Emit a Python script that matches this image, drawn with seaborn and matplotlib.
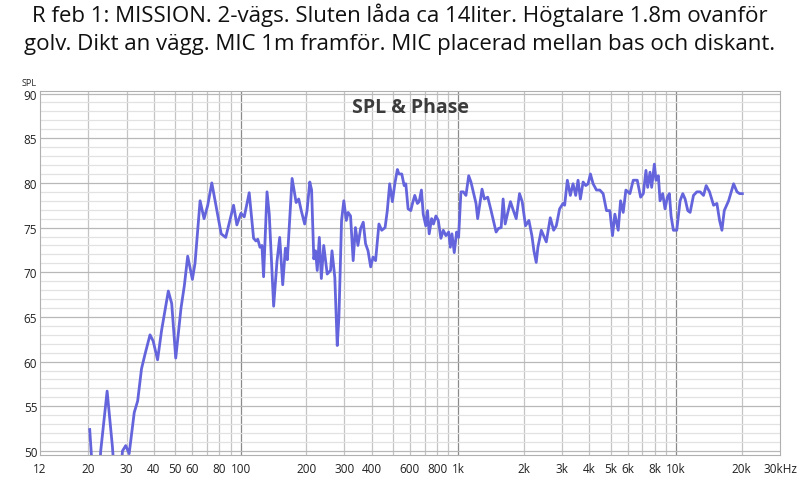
import numpy as np
import pandas as pd
import matplotlib.pyplot as plt
import seaborn as sns
from matplotlib.ticker import FixedLocator, NullFormatter

# frekvenser (Hz) och SPL (dB) avlästa från mätningen
freq = [20.3, 20.8, 21.6, 22.2, 22.8, 24.4, 25.8, 26.6, 28.0, 28.7, 29.7, 30.8, 32.5, 33.7,
        35.1, 36.4, 38.4, 39.7, 41.6, 43.4, 46.6, 48.3, 50.4, 53.3, 55.2, 57.2, 60.1, 61.8,
        65.2, 68.0, 70.7, 73.8, 77.8, 81.5, 85.5, 92.9, 96.2, 100.4, 104, 109.6, 114.8,
        117.7, 120, 122.8, 125.4, 127.6, 132.3, 135.5, 141.9, 147, 151.3, 156.2, 160.7, 164,
        172.5, 180,
        185, 190, 197, 202, 208, 212, 217, 221, 225, 230, 235, 241, 250, 259, 263, 271, 278,
        283, 291, 298, 306, 312, 320, 329, 337, 346, 356, 366, 375, 385, 396, 406, 417, 432,
        445, 461, 472, 484, 498, 511, 525, 534, 550, 564, 574, 588, 605, 616, 631, 649, 661,
        677, 690, 709, 722, 735, 754, 769, 789, 809, 832, 853, 877, 903, 919, 935, 958, 982,
        1003, 1028, 1054, 1084, 1116, 1143, 1172, 1206, 1227, 1249, 1285, 1317, 1365, 1414,
        1449, 1491, 1528, 1573, 1606, 1641, 1688, 1736, 1779, 1844, 1910, 1965, 2035, 2109,
        2177, 2224, 2279, 2320, 2405, 2464, 2535, 2644, 2740, 2818, 2919, 3025, 3078, 3167,
        3269, 3363, 3460, 3546, 3635, 3741, 3848, 3944, 4042, 4159, 4309, 4464, 4623, 4791,
        4964, 5106, 5234, 5422, 5559, 5717, 5881, 6136, 6358, 6632, 6873, 7071, 7272, 7404,
        7589, 7724, 7946, 8088, 8290, 8438, 8680, 8895, 9119, 9315, 9481, 9718, 10070, 10432,
        10732, 11000, 11316, 11600, 12018, 12451, 12898, 13364, 13746, 14241, 14861, 15394,
        15836, 16236, 16641, 17421, 18369, 19037, 19573, 20146]
spl = [52.4, 48.5, 45.0, 45.5, 50.0, 56.7, 50.5, 46.0, 46.5, 50.0, 50.6, 49.7, 54.3, 55.6,
       59.2, 60.8, 63.0, 62.3, 60.2, 63.5, 67.9, 66.5, 60.4, 66.0, 68.5, 71.8, 69.2, 71.0,
       78.0, 76.0, 77.5, 80.0, 77.0, 74.3, 73.9, 77.5, 75.3, 76.6, 76.2, 78.9, 73.8,
       73.5, 73.7, 72.8, 73.0, 69.5, 79.0, 76.5, 66.2, 71.2, 73.9, 68.6, 72.7, 71.4,
       80.5, 77.8,
       78.2, 76.9, 75.4, 76.9, 80.1, 79.2, 71.5, 72.4, 70.2, 73.9, 69.3, 73.0, 69.8, 70.2,
       72.4, 69.4, 61.8, 65.0, 75.8, 78.0, 75.8, 76.7, 76.3, 71.3, 75.0, 73.0, 74.9, 75.6,
       73.2, 72.4, 70.6, 71.7, 71.3, 75.4, 74.7, 75.0, 76.9, 79.9, 77.9, 79.9, 81.5, 81.0,
       81.0, 79.7, 79.9, 77.1, 76.9, 77.7, 78.6, 77.7, 77.9, 79.2, 76.5, 75.2, 76.9, 74.3,
       76.0, 75.4, 76.3, 75.8, 73.8, 74.7, 74.1, 74.5, 72.8, 74.3, 72.2, 74.5, 73.9, 79.0,
       79.0, 78.6, 80.8, 80.1, 79.0, 77.7, 76.0, 77.3, 79.3, 78.2, 78.4, 76.9, 75.8, 74.5,
       74.9, 75.0, 78.2, 75.4, 76.7, 77.9, 77.1, 76.0, 78.8, 77.9, 75.2, 75.8, 74.1, 72.4,
       71.1, 72.8, 74.7, 74.1, 73.4, 76.1, 74.7, 75.2, 77.1, 77.7, 77.5, 80.3, 78.6, 79.9,
       78.6, 80.3, 78.2, 80.1, 79.7, 79.9, 81.0, 79.9, 79.2, 79.2, 78.8, 76.9, 76.9, 74.1,
       76.5, 74.7, 78.0, 76.7, 79.2, 78.8, 80.3, 80.3, 78.4, 78.8, 81.4, 79.5, 81.2, 79.5,
       82.1, 80.3, 80.8, 78.0, 78.8, 77.1, 78.4, 78.8, 76.3, 74.7, 74.7, 78.0, 78.8, 78.2,
       76.9, 76.7, 78.6, 79.0, 79.0, 78.6, 79.7, 79.0, 77.5, 77.7, 75.8, 74.7, 76.9, 78.0,
       79.9, 79.0, 78.8, 78.8]

tick_pos = [12, 20, 30, 40, 50, 60, 80, 100, 200, 300, 400, 600, 800, 1000, 2000, 3000,
            4000, 5000, 6000, 8000, 10000, 20000, 30000]
tick_lab = ["12", "20", "30", "40", "50", "60", "80", "100", "200", "300", "400", "600",
            "800", "1k", "2k", "3k", "4k", "5k", "6k", "8k", "10k", "20k", "30kHz"]

df = pd.DataFrame({"freq": freq, "spl": spl})

plt.rcParams["font.family"] = "Open Sans"
fig = plt.figure(figsize=(8, 4.81), dpi=100)
ax = fig.add_axes([0.05, 0.052, 0.925, 0.757])

ax.set_xscale("log")
ax.set_xlim(12, 30000)
ax.set_ylim(49.55, 90.3)

# rutnät
minor_x = [m * 10 ** e for e in range(1, 5) for m in range(1, 10)]
for f in minor_x:
    if 12 < f < 30000:
        c = "#8a8a8a" if f in (100, 1000, 10000) else "#c4c4c4"
        ax.axvline(f, color=c, lw=0.9, zorder=0)
for v in range(50, 91):
    c = "#b8b8b8" if v % 5 == 0 else "#e2e2e2"
    ax.axhline(v, color=c, lw=0.9, zorder=0)

sns.lineplot(data=df, x="freq", y="spl", sort=False, color="#6464dc", lw=2, ax=ax, zorder=3)

ax.xaxis.set_major_locator(FixedLocator(tick_pos))
ax.set_xticklabels(tick_lab)
ax.xaxis.set_minor_formatter(NullFormatter())
ax.tick_params(axis="x", which="both", length=0, labelsize=8.5, colors="#222222", pad=5)
ax.set_yticks(range(50, 91, 5))
ax.tick_params(axis="y", length=0, labelsize=8.5, colors="#222222", pad=2)
ax.set_xlabel("")
ax.set_ylabel("")
for s in ax.spines.values():
    s.set_color("#b0b0b0")

ax.text(0.5, 0.955, "SPL & Phase", transform=ax.transAxes, ha="center", va="center",
        fontsize=14, fontweight="bold", color="#3c3c3c")
fig.text(0.027, 0.818, "SPL", fontsize=6.5, ha="left", va="bottom", color="#222222")
fig.text(0.5, 0.992, "R feb 1: MISSION. 2-vägs. Sluten låda ca 14liter. Högtalare 1.8m ovanför\n"
         "golv. Dikt an vägg. MIC 1m framför. MIC placerad mellan bas och diskant.",
         ha="center", va="top", fontsize=16, linespacing=1.4, color="#111111")

fig.savefig("out.png", dpi=100)
